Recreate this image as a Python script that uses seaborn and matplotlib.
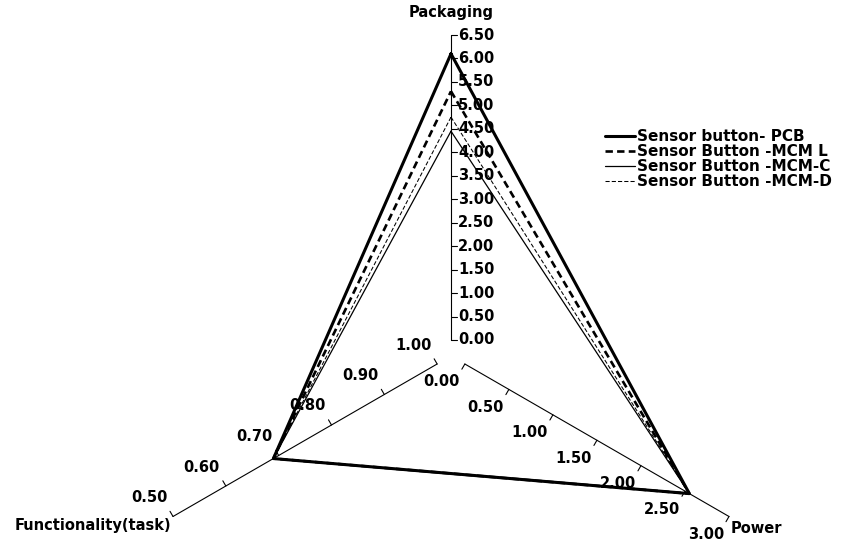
import numpy as np
import pandas as pd
import matplotlib.pyplot as plt
import seaborn as sns

# values
series = ["Sensor button- PCB", "Sensor Button -MCM L",
          "Sensor Button -MCM-C", "Sensor Button -MCM-D"]
packaging = [6.10, 5.30, 4.45, 4.75]
power = [2.55, 2.55, 2.55, 2.55]
functionality = [0.69, 0.69, 0.69, 0.69]

packaging_ticks = [0.0, 0.5, 1.0, 1.5, 2.0, 2.5, 3.0, 3.5, 4.0, 4.5, 5.0, 5.5, 6.0, 6.5]
power_ticks = [0.0, 0.5, 1.0, 1.5, 2.0, 2.5, 3.0]
func_ticks = [1.0, 0.9, 0.8, 0.7, 0.6, 0.5]

sns.set_style("white")
plt.rcParams["font.family"] = ["DejaVu Sans"]
plt.rcParams["font.weight"] = "bold"
plt.rcParams["text.color"] = "black"

# axis layout: angle, inner value, outer value
axes_def = {
    "Packaging": (90, 0.0, 6.5),
    "Power": (-30, 0.0, 3.0),
    "Functionality(task)": (210, 1.0, 0.5),
}
R0, L = 16, 305  # inner gap and axis length (px)


def to_xy(name, v):
    ang, lo, hi = axes_def[name]
    r = R0 + (v - lo) / (hi - lo) * L
    a = np.deg2rad(ang)
    return r * np.cos(a), r * np.sin(a)


fig = plt.figure(figsize=(8.53, 5.40), dpi=100)
ax = fig.add_axes([0, 0, 1, 1])

# radar axes with ticks
tick_len = 6
for name, ticks, off in [("Packaging", packaging_ticks, None),
                         ("Power", power_ticks, (-23, -18)),
                         ("Functionality(task)", func_ticks, (-24, 19))]:
    ang, lo, hi = axes_def[name]
    p0 = to_xy(name, lo)
    p1 = to_xy(name, hi)
    ax.plot([p0[0], p1[0]], [p0[1], p1[1]], color="black", lw=0.8)
    d = np.deg2rad(ang - 90)
    for t in ticks:
        x, y = to_xy(name, t)
        ax.plot([x, x + tick_len * np.cos(d)], [y, y + tick_len * np.sin(d)],
                color="black", lw=0.8)
        if off is None:
            ax.text(x + tick_len + 1, y, f"{t:.2f}", ha="left", va="center", fontsize=10.5)
        else:
            ax.text(x + off[0], y + off[1], f"{t:.2f}", ha="center", va="center", fontsize=10.5)

# axis titles
x, y = to_xy("Packaging", 6.5)
ax.text(x, y + 22, "Packaging", ha="center", va="center", fontsize=10.5)
x, y = to_xy("Functionality(task)", 0.5)
ax.text(x - 158, y - 9, "Functionality(task)", ha="left", va="center", fontsize=10.5)
x, y = to_xy("Power", 3.0)
ax.text(x + 2, y - 12, "Power", ha="left", va="center", fontsize=10.5)

# series polygons
rows = []
for i, s in enumerate(series):
    pts = [("Packaging", packaging[i]), ("Power", power[i]),
           ("Functionality(task)", functionality[i]), ("Packaging", packaging[i])]
    for k, (name, v) in enumerate(pts):
        x, y = to_xy(name, v)
        rows.append({"series": s, "order": k, "x": x, "y": y})
df = pd.DataFrame(rows)

styles = {
    "Sensor button- PCB": dict(lw=2.2, ls="-"),
    "Sensor Button -MCM L": dict(lw=1.9, ls=(0, (2.8, 1.6))),
    "Sensor Button -MCM-C": dict(lw=0.9, ls="-"),
    "Sensor Button -MCM-D": dict(lw=0.75, ls=(0, (4, 2))),
}
for s in series:
    sub = df[df["series"] == s]
    sns.lineplot(data=sub, x="x", y="y", sort=False, estimator=None, ax=ax,
                 color="black", label=s, **styles[s])

ax.legend(loc="upper left", bbox_to_anchor=(605 / 853, 1 - 129 / 540),
          bbox_transform=fig.transFigure, frameon=False, fontsize=11,
          handlelength=1.96, handletextpad=0.15, labelspacing=0.0,
          borderpad=0, borderaxespad=0)
ax.set_xlim(-451, 402)
ax.set_ylim(-184, 356)
ax.axis("off")

fig.savefig("out.png", dpi=100)
